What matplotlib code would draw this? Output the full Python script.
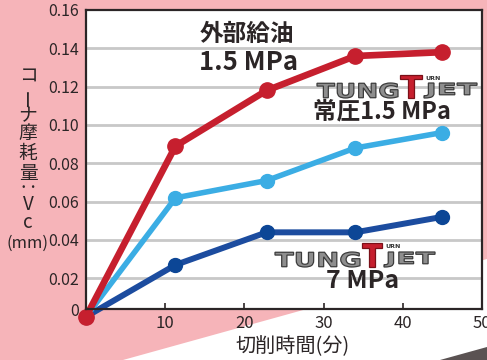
import numpy as np
import matplotlib
matplotlib.use("Agg")
import matplotlib.pyplot as plt
from matplotlib.patches import Polygon, PathPatch
from matplotlib.textpath import TextPath
from matplotlib.font_manager import FontProperties
from matplotlib.transforms import Affine2D

# data
times = [0, 11.3, 22.8, 34.0, 44.9]
external_15 = [0, 0.089, 0.118, 0.136, 0.138]   # 外部給油 1.5 MPa
tungjet_15 = [0, 0.062, 0.071, 0.088, 0.096]    # TungTJet 常圧1.5 MPa
tungjet_7 = [0, 0.027, 0.044, 0.044, 0.052]     # TungTJet 7 MPa

yticks = [0.02, 0.04, 0.06, 0.08, 0.10, 0.12, 0.14, 0.16]
xticks = [10, 20, 30, 40, 50]
ylabel_chars = ["コ", "ー", "ナ", "摩", "耗", "量", "‥", "V", "c", "(mm)"]
xlabel = "切削時間(分)"

RED = "#c61f2e"
LBLUE = "#3badE4"
DBLUE = "#1c4c9f"
PINK = "#f6b4b9"
TXT = "#2b2526"
JP = ["Noto Sans CJK JP", "DejaVu Sans"]
plt.rcParams["font.family"] = JP

W, H = 487, 360
fig = plt.figure(figsize=(W / 100, H / 100), dpi=100)
fig.patch.set_facecolor("white")


def fx(px):
    return px / W


def fy(py):
    return 1 - py / H


# pink backdrop and dark corner
fig.add_artist(Polygon([(0, 1), (1, 1), (1, fy(259)), (fx(123), 0), (0, 0)],
                       closed=True, transform=fig.transFigure, fc=PINK, ec="none", zorder=0))
fig.add_artist(Polygon([(fx(440), 0), (1, fy(347)), (1, 0)],
                       closed=True, transform=fig.transFigure, fc="#5a5252", ec="none", zorder=0))

ax = fig.add_axes([fx(86), fy(309), fx(482) - fx(86), fy(10) - fy(309)])
ax.set_facecolor("white")
ax.set_xlim(0, 50)
ax.set_ylim(0.004, 0.16)

for v in yticks[:-1]:
    ax.axhline(v, color="#c8c8c8", lw=2, zorder=1)

ax.plot(times, tungjet_7, color=DBLUE, lw=4.3, marker="o", ms=10,
        mfc="#0c4696", mec="#0c4696", clip_on=False, zorder=3)
ax.plot(times, tungjet_15, color=LBLUE, lw=4, marker="o", ms=10,
        clip_on=False, zorder=4)
ax.plot(times, external_15, color=RED, lw=4.8, marker="o", ms=11,
        clip_on=False, zorder=5)

for s in ax.spines.values():
    s.set_color(TXT)
    s.set_linewidth(1.6)
    s.set_zorder(6)

ax.set_xticks(xticks)
ax.set_xticklabels([str(t) for t in xticks])
ax.tick_params(axis="x", direction="in", length=4, width=1.2, color=TXT,
               labelsize=12, labelcolor=TXT, pad=4)
ax.set_yticks([0.004] + yticks)
ax.set_yticklabels(["0"] + ["%.2f" % v for v in yticks])
ax.tick_params(axis="y", length=0, labelsize=11.5, labelcolor=TXT, pad=5)

# axis titles
fig.text(fx(293), fy(347), xlabel, ha="center", va="center", fontsize=14.5, color=TXT)
ylab_y = [76, 98, 116, 133, 153, 173, 188, 204, 222, 243]
for ch, py in zip(ylabel_chars, ylab_y):
    rot = 90 if ch == "ー" else 0
    fs = 12 if ch == "(mm)" else 13.5
    fig.text(fx(28), fy(py), ch, ha="center", va="center", fontsize=fs,
             color=TXT, rotation=rot)

# series labels
fig.text(fx(200), fy(34), "外部給油", ha="left", va="center", fontsize=17,
         fontweight="bold", color=TXT)
fig.text(fx(199), fy(62), "1.5 MPa", ha="left", va="center", fontsize=18.5,
         fontweight="bold", color=TXT)
fig.text(fx(313), fy(111), "常圧1.5 MPa", ha="left", va="center", fontsize=17,
         fontweight="bold", color=TXT)
fig.text(fx(326), fy(281), "7 MPa", ha="left", va="center", fontsize=18,
         fontweight="bold", color=TXT)


def word(text, x0, x1, ytop, ybot, fc, ec):
    path = TextPath((0, 0), text, prop=FontProperties(family="DejaVu Sans", weight="bold"))
    bb = path.get_extents()
    tr = (Affine2D().translate(-bb.x0, -bb.y0)
          .scale((x1 - x0) / bb.width, (ybot - ytop) / bb.height)
          .translate(x0, H - ybot).scale(1 / W, 1 / H) + fig.transFigure)
    fig.add_artist(PathPatch(path, transform=tr, fc=fc, ec=ec, lw=0.9, zorder=7))


def logo(x0, xt0, xt1, x1, ytop_t, ytop, ybot):
    word("TUNG", x0, xt0 - 2, ytop, ybot, "#8e8e8e", "#3c3c3c")
    word("T", xt0, xt1, ytop_t, ybot, RED, "#7a1018")
    word("JET", xt1 + 2, x1, ytop, ybot, "#8e8e8e", "#3c3c3c")
    fig.text(fx(xt1 + 3), fy(ytop_t + 3), "URN", ha="left", va="center",
             fontsize=4.5, fontweight="bold", color="#333333", family="DejaVu Sans")


logo(317, 400, 422, 477, 75, 83, 98)
logo(275, 362, 382, 435, 243, 252, 267)

fig.savefig("out.png", dpi=100, facecolor=fig.get_facecolor())
